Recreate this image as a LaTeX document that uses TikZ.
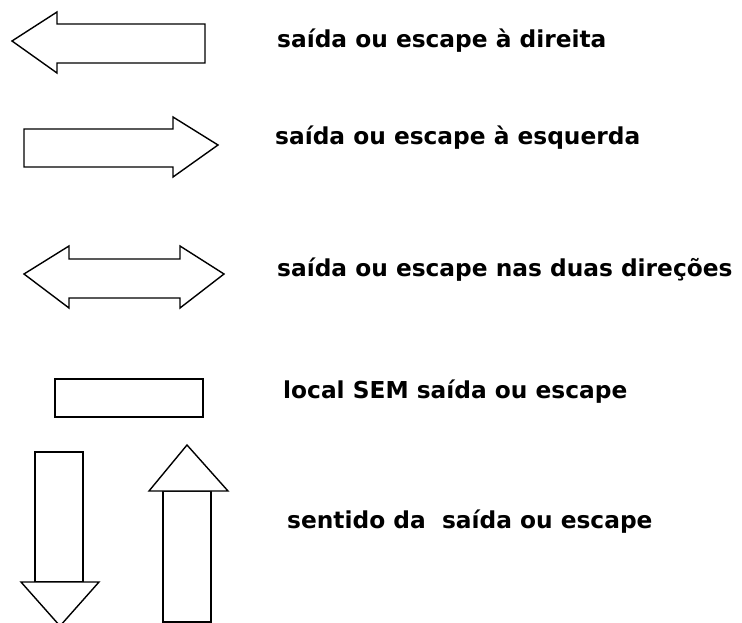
\documentclass[tikz,border=0pt]{standalone}
\usepackage{fontspec}
\setmainfont{DejaVu Sans}
\begin{document}
\begin{tikzpicture}[x=1pt,y=-1pt,
  outl/.style={draw=black,line width=1.4pt,line join=miter,fill=white},
  lbl/.style={anchor=base west,inner sep=0pt,font=\bfseries\fontsize{23.3}{26}\selectfont}]
\useasboundingbox (0,0) rectangle (742,623);
\begin{scope}
\clip (0,0) rectangle (742,623);
% left arrow
\draw[outl] (12,41) -- (57,12) -- (57,24) -- (205,24) -- (205,63) -- (57,63) -- (57,73) -- cycle;
% right arrow
\draw[outl] (218,145) -- (173,117) -- (173,129) -- (24,129) -- (24,167) -- (173,167) -- (173,177) -- cycle;
% double arrow
\draw[outl] (24,274) -- (69,246) -- (69,259) -- (180,259) -- (180,246) -- (224,274) -- (180,308) -- (180,298) -- (69,298) -- (69,308) -- cycle;
% rectangle
\draw[outl] (55,379) rectangle (203,417);
% down arrow
\draw[outl] (35,452) rectangle (83,582);
\draw[outl] (21,582) -- (99,582) -- (60,626) -- cycle;
% up arrow
\draw[outl] (163,491) rectangle (211,622);
\draw[outl] (149,491) -- (228,491) -- (187,445) -- cycle;
\end{scope}
\node[lbl] (t1) at (277,48) {saída ou escape à direita};
\node[lbl] (t2) at (275,145) {saída ou escape à esquerda};
\node[lbl] (t3) at (277,276) {saída ou escape nas duas direções};
\node[lbl] (t4) at (283,398) {local SEM saída ou escape};
\node[lbl] (t5) at (287,528) {sentido da\ \ saída ou escape};
\end{tikzpicture}
\end{document}
